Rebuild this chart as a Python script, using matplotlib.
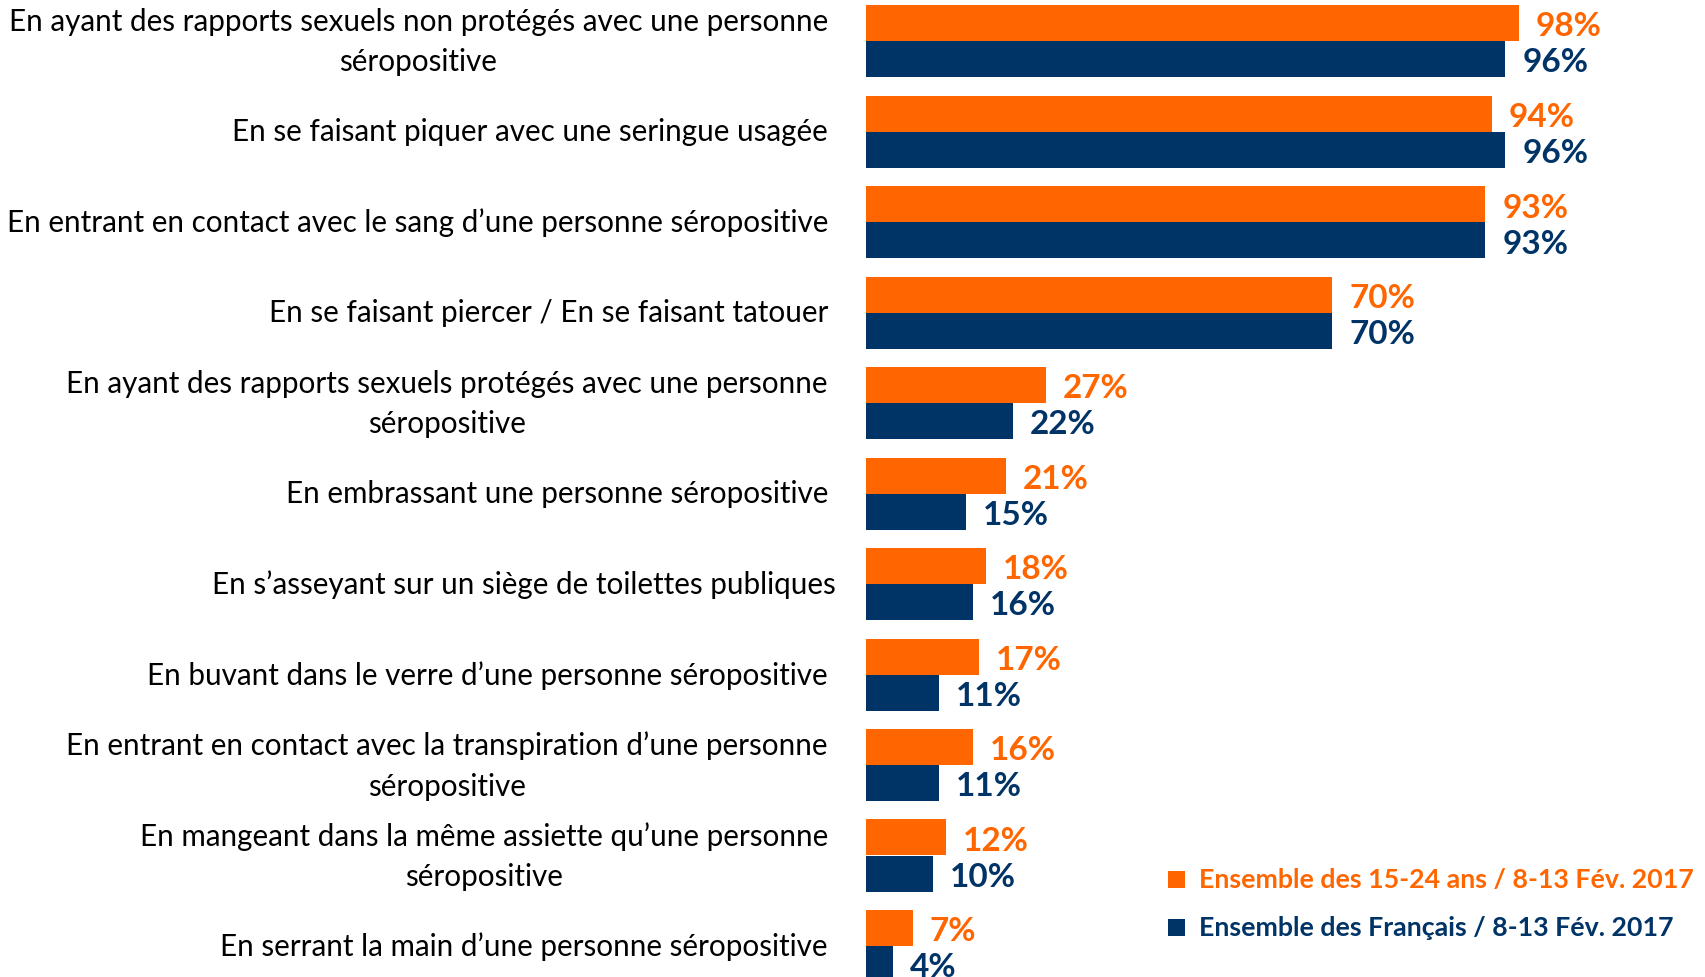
import matplotlib
matplotlib.use('Agg')
import matplotlib.pyplot as plt
import matplotlib.patches as mpatches
from matplotlib.transforms import blended_transform_factory

plt.rcParams['font.family'] = ['Lato', 'DejaVu Sans']

ORANGE = '#FF6600'
NAVY = '#003366'

labels = [
    'En ayant des rapports sexuels non protégés avec une personne\nséropositive',
    'En se faisant piquer avec une seringue usagée',
    'En entrant en contact avec le sang d\u2019une personne séropositive',
    'En se faisant piercer / En se faisant tatouer',
    'En ayant des rapports sexuels protégés avec une personne\nséropositive',
    'En embrassant une personne séropositive',
    'En s\u2019asseyant sur un siège de toilettes publiques',
    'En buvant dans le verre d\u2019une personne séropositive',
    'En entrant en contact avec la transpiration d\u2019une personne\nséropositive',
    'En mangeant dans la même assiette qu\u2019une personne\nséropositive',
    'En serrant la main d\u2019une personne séropositive',
]
youth = [98, 94, 93, 70, 27, 21, 18, 17, 16, 12, 7]
everyone = [96, 96, 93, 70, 22, 15, 16, 11, 11, 10, 4]
series_names = ['Ensemble des 15-24 ans / 8-13 Fév. 2017',
                'Ensemble des Français / 8-13 Fév. 2017']

W, H = 1705, 978
fig = plt.figure(figsize=(W / 100, H / 100), dpi=100)
fig.patch.set_facecolor('white')

# layout in pixels
x0 = 866          # bar origin
px_per_pct = 6.66
row0 = 42         # centre of first row
pitch = 90.5
bar_px = 36
label_right = 828
# the toilet label sits a little further right in the original
label_shift = {6: 8}

ax = fig.add_axes([x0 / W, 0, 1 - x0 / W, 1])
ax.set_xlim(0, (W - x0) / px_per_pct)
ax.set_ylim((H - row0) / pitch, -row0 / pitch)
ax.axis('off')

h = bar_px / pitch
ys = list(range(len(labels)))
ax.barh([y - h / 2 for y in ys], youth, height=h, color=ORANGE, edgecolor='none')
ax.barh([y + h / 2 for y in ys], everyone, height=h, color=NAVY, edgecolor='none')

gap = 17 / px_per_pct
dy = 3 / pitch
for y, a, b in zip(ys, youth, everyone):
    ax.text(a + gap, y - h / 2 + dy, f'{a}%', color=ORANGE, fontsize=24,
            fontweight='bold', va='center', ha='left', clip_on=False)
    ax.text(b + gap, y + h / 2 + dy, f'{b}%', color=NAVY, fontsize=24,
            fontweight='bold', va='center', ha='left', clip_on=False)

# category labels, right aligned left of the bars
trans = blended_transform_factory(fig.transFigure, ax.transData)
for y, lab in zip(ys, labels):
    xr = label_right + label_shift.get(y, 0)
    ax.text(xr / W, y, lab, transform=trans, ha='right', va='center',
            multialignment='center', fontsize=21.3, color='black',
            linespacing=1.55)

# legend
for i, (name, col) in enumerate(zip(series_names, [ORANGE, NAVY])):
    top = 872 + i * 48
    fig.add_artist(mpatches.Rectangle((1168 / W, 1 - (top + 17) / H), 17 / W, 17 / H,
                                      transform=fig.transFigure, facecolor=col,
                                      edgecolor='none'))
    fig.text(1199 / W, 1 - (top + 8.5) / H, name, color=col, fontsize=19.3,
             fontweight='bold', va='center', ha='left')

fig.savefig('out.png', dpi=100, facecolor='white')
